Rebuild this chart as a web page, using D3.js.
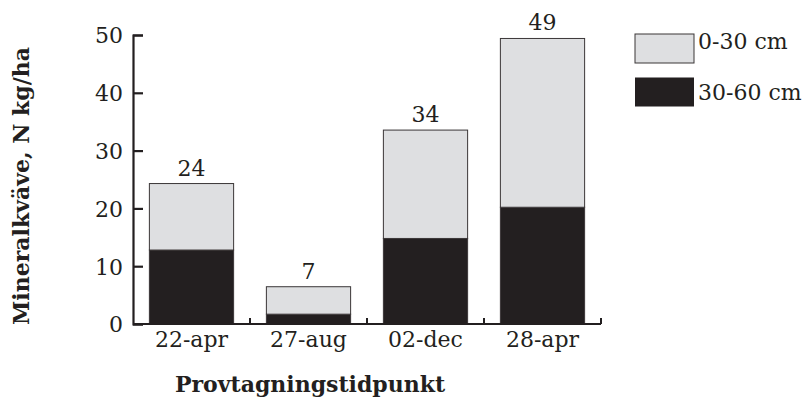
<!DOCTYPE html>
<html>
<head>
<meta charset="utf-8">
<script src="https://cdn.jsdelivr.net/npm/d3@7"></script>
<style>
  body { margin: 0; background: #fff; }
  text { font-family: "DejaVu Serif", "Liberation Serif", serif; fill: #231f20; }
</style>
</head>
<body>
<div id="chart"></div>
<script>
// data
const dates = ["22-apr", "27-aug", "02-dec", "28-apr"];
const deep = [12.8, 1.7, 14.8, 20.2];      // 30-60 cm
const top30 = [11.5, 4.75, 18.75, 29.2];   // 0-30 cm
const totals = [24, 7, 34, 49];            // printed labels
const yTicks = [0, 10, 20, 30, 40, 50];
const seriesNames = ["0-30 cm", "30-60 cm"];

const W = 806, H = 401;
const margin = {top: 35, right: 205, bottom: 77, left: 133};
const width = W - margin.left - margin.right;
const height = H - margin.top - margin.bottom;

const colors = {"0-30 cm": "#dedfe1", "30-60 cm": "#231f20"};

var svg = d3.select("#chart")
    .append("svg")
    .attr("width", W)
    .attr("height", H);

var g = svg.append("g")
    .attr("transform", "translate(" + margin.left + "," + margin.top + ")");

var x = d3.scaleBand()
    .domain(dates)
    .range([0, width])
    .paddingInner(0.28)
    .paddingOuter(0.14);

var y = d3.scaleLinear()
    .domain([0, 50])
    .range([height, 0]);

// stacked rows
var rows = dates.map(function(d, i) {
    return {date: d, "30-60 cm": deep[i], "0-30 cm": top30[i]};
});
var stack = d3.stack().keys(["30-60 cm", "0-30 cm"])(rows);

g.selectAll("g.layer")
    .data(stack)
    .enter()
    .append("g")
    .attr("class", "layer")
    .attr("fill", function(d) { return colors[d.key]; })
    .selectAll("rect")
    .data(function(d) { return d; })
    .enter()
    .append("rect")
    .attr("x", function(d) { return x(d.data.date); })
    .attr("y", function(d) { return y(d[1]); })
    .attr("width", x.bandwidth())
    .attr("height", function(d) { return y(d[0]) - y(d[1]); })
    .attr("stroke", "#3a3637")
    .attr("stroke-width", 1);

// total labels
g.selectAll("text.total")
    .data(dates)
    .enter()
    .append("text")
    .attr("class", "total")
    .attr("x", function(d) { return x(d) + x.bandwidth() / 2; })
    .attr("y", function(d, i) { return y(deep[i] + top30[i]) - 8; })
    .attr("text-anchor", "middle")
    .style("font-size", "22px")
    .text(function(d, i) { return totals[i]; });

// y axis
var yAxis = g.append("g")
    .call(d3.axisLeft(y).tickValues(yTicks).tickSize(-10).tickPadding(10));
yAxis.select(".domain").attr("stroke", "#231f20").attr("stroke-width", 2.2);
yAxis.selectAll(".tick line").attr("stroke", "#231f20").attr("stroke-width", 2.2);
yAxis.selectAll(".tick text").style("font-size", "22px").attr("dy", "0.36em");

// x axis: baseline with small upward ticks at category boundaries
var xAxisG = g.append("g")
    .attr("transform", "translate(0," + height + ")");
xAxisG.append("line")
    .attr("x1", 0).attr("x2", width)
    .attr("stroke", "#231f20").attr("stroke-width", 2.2);
xAxisG.selectAll("line.sep")
    .data(dates)
    .enter()
    .append("line")
    .attr("class", "sep")
    .attr("x1", function(d) { return x(d) + x.bandwidth() + x.step() * x.paddingInner() / 2; })
    .attr("x2", function(d) { return x(d) + x.bandwidth() + x.step() * x.paddingInner() / 2; })
    .attr("y1", 0).attr("y2", -6)
    .attr("stroke", "#231f20").attr("stroke-width", 2);
xAxisG.selectAll("text")
    .data(dates)
    .enter()
    .append("text")
    .attr("x", function(d) { return x(d) + x.bandwidth() / 2; })
    .attr("y", 23)
    .attr("text-anchor", "middle")
    .style("font-size", "22px")
    .text(function(d) { return d; });

// axis titles
svg.append("text")
    .attr("x", 310)
    .attr("y", 392)
    .attr("text-anchor", "middle")
    .style("font-size", "22px")
    .style("font-weight", "bold")
    .text("Provtagningstidpunkt");

svg.append("text")
    .attr("transform", "translate(29,186) rotate(-90)")
    .attr("text-anchor", "middle")
    .style("font-size", "22px")
    .style("font-weight", "bold")
    .text("Mineralkväve, N kg/ha");

// legend
var legend = svg.append("g")
    .attr("transform", "translate(635,34)");
var items = legend.selectAll("g")
    .data(seriesNames)
    .enter()
    .append("g")
    .attr("transform", function(d, i) { return "translate(0," + (i * 43.5) + ")"; });
items.append("rect")
    .attr("width", 59)
    .attr("height", 29)
    .attr("fill", function(d) { return colors[d]; })
    .attr("stroke", function(d, i) { return i === 0 ? "#3a3637" : "none"; })
    .attr("stroke-width", 1);
items.append("text")
    .attr("x", 63)
    .attr("y", function(d, i) { return i === 0 ? 15 : 22; })
    .style("font-size", "22px")
    .text(function(d) { return d; });
</script>
</body>
</html>
